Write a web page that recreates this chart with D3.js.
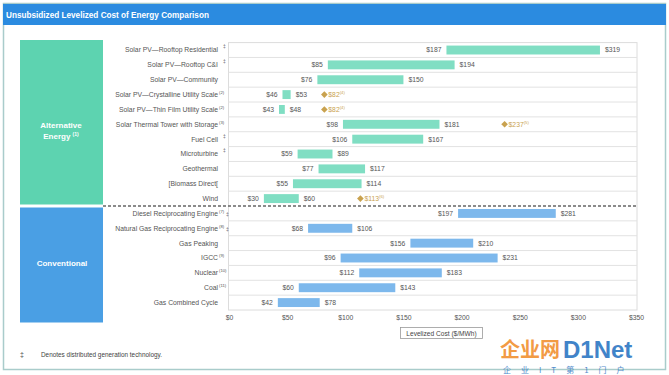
<!DOCTYPE html>
<html><head><meta charset="utf-8">
<script src="https://cdn.jsdelivr.net/npm/d3@7/dist/d3.min.js"></script>
<style>body{margin:0;background:#fff}svg{display:block}</style>
</head><body>
<script>
const categories = ["Solar PV\u2014Rooftop Residential","Solar PV\u2014Rooftop C&I","Solar PV\u2014Community","Solar PV\u2014Crystalline Utility Scale","Solar PV\u2014Thin Film Utility Scale","Solar Thermal Tower with Storage","Fuel Cell","Microturbine","Geothermal","[Biomass Direct[","Wind","Diesel Reciprocating Engine","Natural Gas Reciprocating Engine","Gas Peaking","IGCC","Nuclear","Coal","Gas Combined Cycle"];
const groups = ["alt","alt","alt","alt","alt","alt","alt","alt","alt","alt","alt","conv","conv","conv","conv","conv","conv","conv"];
const superNotes = ["","","","(2)","(2)","(3)","","","","","","(7)","(8)","","(9)","(10)","(11)",""];
const dgMarks = [true,true,false,false,false,false,true,true,false,false,false,true,true,false,false,false,false,false];
const lows  = [187,85,76,46,43,98,106,59,77,55,30,197,68,156,96,112,60,42];
const highs = [319,194,150,53,48,181,167,89,117,114,60,281,106,210,231,183,143,78];
const diamonds = [null,null,null,82,82,237,null,null,null,null,113,null,null,null,null,null,null,null];
const diamondNotes = ["","","","(4)","(4)","(5)","","","","","(6)","","","","","","",""];
const xTicks = [0,50,100,150,200,250,300,350];

const W=669,H=375;
const svg=d3.select("body").append("svg").attr("width",W).attr("height",H);
const font="'Liberation Sans', Arial, sans-serif";
const narrow="'Liberation Sans Narrow','Liberation Sans', Arial, sans-serif";

// outer frame
svg.append("rect").attr("x",3.5).attr("y",3.5).attr("width",662).attr("height",366).attr("fill","#fff").attr("stroke","#a9cccb").attr("stroke-width",1.5);
svg.append("rect").attr("x",3).attr("y",4).attr("width",663).attr("height",21).attr("fill","#2b8be0");
svg.append("text").attr("x",6).attr("y",17.5).attr("fill","#fff").attr("font-family",narrow).attr("font-weight","bold").attr("font-size",8.2).text("Unsubsidized  Levelized Cost of Energy Comparison");

const x=d3.scaleLinear().domain([0,350]).range([229,636]);
const y=d3.scaleBand().domain(categories).range([42.6,310]).paddingInner(0.4).paddingOuter(0.2);
const step=y.step();

// category boxes
svg.append("rect").attr("x",20).attr("y",40).attr("width",83).attr("height",164.5).attr("fill","#5dd3b0");
svg.append("rect").attr("x",20).attr("y",207.5).attr("width",83).attr("height",115).attr("fill","#4a9fe4");
const boxT=svg.append("g").attr("fill","#fff").attr("font-family",font).attr("font-weight","bold").attr("font-size",8).attr("text-anchor","middle");
boxT.append("text").attr("x",61).attr("y",128).text("Alternative");
const e=boxT.append("text").attr("x",61).attr("y",139);
e.append("tspan").text("Energy ");
e.append("tspan").attr("font-size",5).attr("dy",-3).text("(1)");
boxT.append("text").attr("x",62).attr("y",266).text("Conventional");

// plot frame & grid
const top0=42.6, bot=310;
svg.append("rect").attr("x",228.5).attr("y",top0).attr("width",408.5).attr("height",bot-top0).attr("fill","none").attr("stroke","#dcdcdc");
categories.forEach((c,i)=>{
  if(i>0 && i!==11){
    const yy=y(c)-step*y.paddingInner()/2;
    svg.append("line").attr("x1",228.5).attr("x2",637).attr("y1",yy).attr("y2",yy).attr("stroke","#e2e2e2");
  }
});
const dashY=y(categories[11])-step*y.paddingInner()/2;
svg.append("line").attr("x1",103).attr("x2",637).attr("y1",dashY).attr("y2",dashY).attr("stroke","#666").attr("stroke-width",1.3).attr("stroke-dasharray","3,2");

// labels
const lab=svg.append("g").attr("font-family",font).attr("font-size",6.8).attr("fill","#555");
categories.forEach((c,i)=>{
  const cy=y(c)+y.bandwidth()/2+2.4;
  lab.append("text").attr("x",218).attr("y",cy).attr("text-anchor","end").text(c);
  let sx=219;
  if(superNotes[i]){
    lab.append("text").attr("x",sx).attr("y",cy-3).attr("font-size",4.2).text(superNotes[i]);
    sx+=superNotes[i].length*2.2+0.5;
  }
  if(dgMarks[i]){
    const mx = superNotes[i]? sx : 223;
    const my = superNotes[i]? cy : cy-4;
    lab.append("text").attr("x",mx).attr("y",my).attr("font-size",5).text("\u2021");
  }
});

// bars
const bars=svg.append("g");
categories.forEach((c,i)=>{
  const by=y(c), bh=y.bandwidth();
  bars.append("rect").attr("x",x(lows[i])).attr("y",by).attr("width",x(highs[i])-x(lows[i])).attr("height",bh)
    .attr("fill",groups[i]==="alt"?"#80dec3":"#7db8ec");
  const cy=by+bh/2+2.4;
  lab.append("text").attr("x",x(lows[i])-5).attr("y",cy).attr("text-anchor","end").text("$"+lows[i]);
  lab.append("text").attr("x",x(highs[i])+5).attr("y",cy).text("$"+highs[i]);
  if(diamonds[i]!==null){
    const dx=x(diamonds[i]), dy=by+bh/2;
    svg.append("path").attr("d",d3.symbol(d3.symbolSquare,22)())
      .attr("transform",`translate(${dx},${dy}) rotate(45)`).attr("fill","#c9a24f");
    const t=svg.append("text").attr("x",dx+4).attr("y",cy).attr("font-family",font).attr("font-size",6.8).attr("fill","#c9a24f");
    t.append("tspan").text("$"+diamonds[i]);
    t.append("tspan").attr("font-size",4.2).attr("dy",-3).text(diamondNotes[i]);
  }
});

// axis
const ax=svg.append("g").attr("transform",`translate(0,${bot})`).call(d3.axisBottom(x).tickValues(xTicks).tickSize(0).tickPadding(5).tickFormat(d=>"$"+d));
ax.select(".domain").remove();
ax.selectAll("text").attr("font-family",font).attr("font-size",6.8).attr("fill","#555");

// axis title box
svg.append("rect").attr("x",400.5).attr("y",327.5).attr("width",82).attr("height",11).attr("fill","#fff").attr("stroke","#999").attr("stroke-width",0.8);
svg.append("text").attr("x",441.5).attr("y",335.5).attr("text-anchor","middle").attr("font-family",font).attr("font-size",6.6).attr("fill","#444").text("Levelized Cost ($/MWh)");

// footnote
svg.append("text").attr("x",20).attr("y",357).attr("font-family",font).attr("font-size",7).attr("fill","#444").text("\u2021");
svg.append("text").attr("x",41).attr("y",357).attr("font-family",font).attr("font-size",6.4).attr("fill","#444").text("Denotes distributed generation technology.");

// watermark
const wm=svg.append("g").attr("font-family","'Noto Sans CJK SC', sans-serif").attr("font-weight","bold");
wm.append("text").attr("x",500).attr("y",357).attr("font-size",20).attr("fill","#f08a24").attr("opacity",0.85).text("企业网");
wm.append("text").attr("x",563).attr("y",358).attr("font-family",font).attr("font-size",24).attr("fill","#1f6fc0").attr("opacity",0.85).text("D1Net");
wm.append("text").attr("x",503).attr("y",373).attr("font-size",8).attr("font-weight","normal").attr("fill","#1f6fc0").attr("letter-spacing",10).attr("opacity",0.8).text("企业IT第1门户");
</script>
</body></html>
